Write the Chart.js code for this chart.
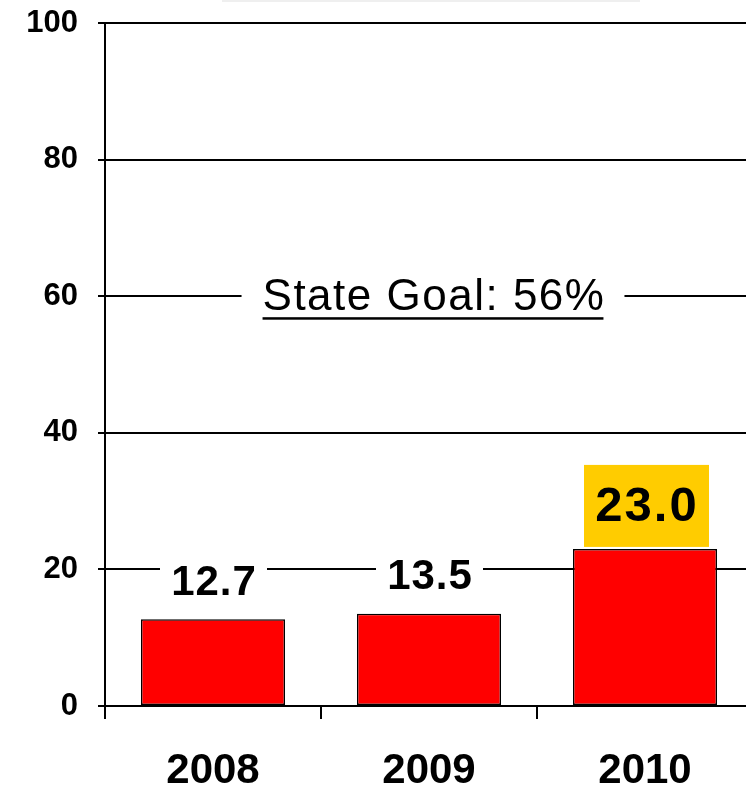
<!DOCTYPE html>
<html>
<head>
<meta charset="utf-8">
<script src="https://cdn.jsdelivr.net/npm/chart.js@4/dist/chart.umd.min.js"></script>
<style>
  html, body { margin: 0; padding: 0; background: #ffffff; overflow: hidden; }
  #wrap { position: relative; width: 753px; height: 788px; }
</style>
</head>
<body>
<div id="wrap"><canvas id="c"></canvas></div>
<script>
// ---- data ----
const categories = ['2008', '2009', '2010'];
const values = [12.7, 13.5, 23.0];
const yTickValues = [0, 20, 40, 60, 80, 100];
const goalLabel = 'State Goal: 56%';
const goalLineValue = 60;
const highlightIndex = 2;

// ---- decorations plugin ----
const decorations = {
  id: 'decorations',
  beforeDraw(chart) {
    const ctx = chart.ctx;
    ctx.save();
    ctx.fillStyle = '#efefef';
    ctx.fillRect(222, 0, 418, 2);
    ctx.restore();
  },
  afterDatasetsDraw(chart) {
    const ctx = chart.ctx;
    const meta = chart.getDatasetMeta(0);
    const xs = chart.scales.x, ys = chart.scales.y;
    ctx.save();
    ctx.textAlign = 'center';
    ctx.textBaseline = 'middle';
    meta.data.forEach((bar, i) => {
      const txt = values[i].toFixed(1);
      if (i === highlightIndex) {
        ctx.fillStyle = '#ffcc00';
        ctx.fillRect(bar.x - 61, bar.y - 84, 125, 82);
        ctx.font = '700 49px "Liberation Sans", Arial, sans-serif';
        ctx.letterSpacing = '2px';
        ctx.fillStyle = '#000000';
        ctx.fillText(txt, bar.x + 2, bar.y - 41);
      } else {
        ctx.fillStyle = '#ffffff';
        ctx.fillRect(bar.x - 53, bar.y - 56, 107, 40);
        ctx.font = '700 42px "Liberation Sans", Arial, sans-serif';
        ctx.letterSpacing = '1px';
        ctx.fillStyle = '#000000';
        ctx.fillText(txt, bar.x + 1, bar.y - 36);
      }
    });
    // state goal label on the 60 gridline
    const gy = ys.getPixelForValue(goalLineValue);
    const gx = xs.getPixelForValue(1) + 4;
    ctx.font = '400 44px "Liberation Sans", Arial, sans-serif';
    ctx.letterSpacing = '1.5px';
    const w = ctx.measureText(goalLabel).width;
    ctx.fillStyle = '#ffffff';
    ctx.fillRect(gx - w / 2 - 20, gy - 6, w + 40, 12);
    ctx.fillStyle = '#000000';
    ctx.textBaseline = 'alphabetic';
    ctx.fillText(goalLabel, gx + 1, gy + 14);
    ctx.fillRect(gx - w / 2 + 1, gy + 21, w - 2, 2.5);
    ctx.restore();
  }
};

new Chart(document.getElementById('c'), {
  type: 'bar',
  data: {
    labels: categories,
    datasets: [{
      data: values,
      backgroundColor: '#ff0000',
      borderColor: '#000000',
      borderWidth: 1.5,
      borderSkipped: false,
      categoryPercentage: 1.0,
      barPercentage: 0.667
    }]
  },
  options: {
    responsive: true,
    maintainAspectRatio: false,
    animation: false,
    layout: { padding: { top: 23, right: 0, left: 0, bottom: 0 } },
    plugins: { legend: { display: false }, tooltip: { enabled: false } },
    scales: {
      x: {
        offset: true,
        grid: { display: true, drawOnChartArea: false, drawTicks: true, tickLength: 13, color: '#000000', lineWidth: 2, offset: true },
        border: { display: true, color: '#000000', width: 2 },
        ticks: { color: '#000000', font: { family: '"Liberation Sans", Arial, sans-serif', size: 42, weight: 'bold' }, padding: 27, maxRotation: 0 },
        afterFit(scale) { scale.height = 82; scale.paddingLeft = 0; scale.paddingRight = 0; }
      },
      y: {
        min: 0, max: 100,
        afterBuildTicks(scale) { scale.ticks = yTickValues.map(v => ({ value: v })); },
        grid: { color: '#000000', lineWidth: 2, drawTicks: true, tickLength: 7 },
        border: { display: true, color: '#000000', width: 2 },
        ticks: { color: '#000000', font: { family: '"Liberation Sans", Arial, sans-serif', size: 31, weight: 'bold' }, padding: 20 },
        afterFit(scale) { scale.width = 105; scale.paddingTop = 0; scale.paddingBottom = 0; }
      }
    }
  },
  plugins: [decorations]
});
</script>
</body>
</html>
